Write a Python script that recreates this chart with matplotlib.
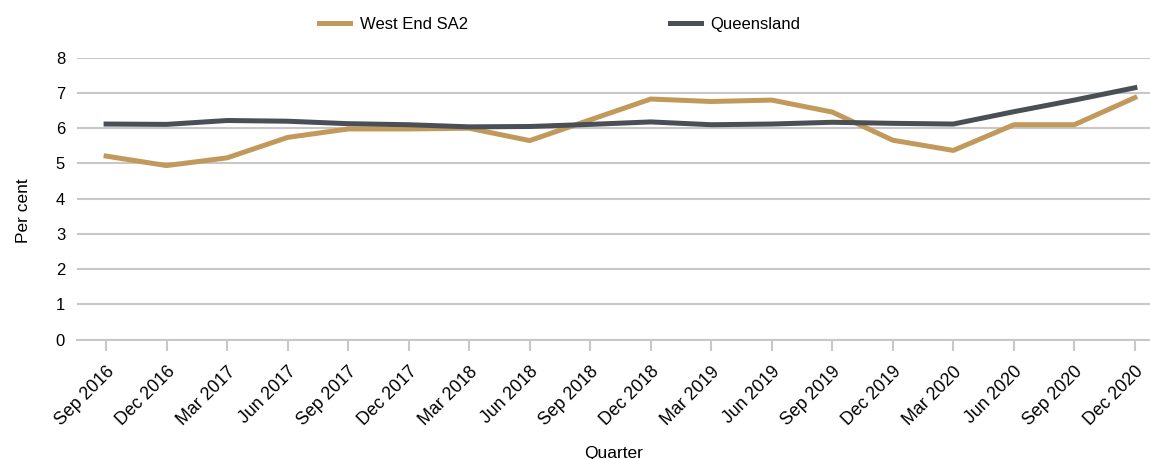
import matplotlib.pyplot as plt

plt.rcParams['font.family'] = ['Liberation Sans', 'DejaVu Sans']

quarters = ['Sep 2016', 'Dec 2016', 'Mar 2017', 'Jun 2017', 'Sep 2017', 'Dec 2017',
            'Mar 2018', 'Jun 2018', 'Sep 2018', 'Dec 2018', 'Mar 2019', 'Jun 2019',
            'Sep 2019', 'Dec 2019', 'Mar 2020', 'Jun 2020', 'Sep 2020', 'Dec 2020']
west_end = [5.21, 4.94, 5.16, 5.74, 5.98, 5.98, 6.0, 5.65, 6.24, 6.83, 6.76, 6.80,
            6.46, 5.66, 5.37, 6.10, 6.10, 6.87]
queensland = [6.12, 6.11, 6.22, 6.20, 6.13, 6.10, 6.04, 6.05, 6.11, 6.18, 6.10, 6.12,
              6.17, 6.14, 6.12, 6.47, 6.80, 7.15]

fig = plt.figure(figsize=(11.5, 4.59), dpi=100)
ax = fig.add_axes([0.067, 0.2603, 0.933, 0.6137])

x = range(len(quarters))
ax.plot(x, west_end, color='#C19A5B', lw=3.6, label='West End SA2')
ax.plot(x, queensland, color='#4A4F55', lw=3.6, label='Queensland')

ax.set_ylim(0, 8)
ax.set_yticks(range(0, 9))
ax.set_xlim(-0.48, 17.25)
ax.set_xticks(list(x))
ax.set_xticklabels(quarters, rotation=45, ha='right', rotation_mode='anchor')
ax.grid(axis='y', color='#C8C8C8', lw=1.5)
ax.set_axisbelow(True)
for s in ['top', 'right', 'left']:
    ax.spines[s].set_visible(False)
ax.spines['bottom'].set_color('#C8C8C8')
ax.spines['bottom'].set_linewidth(1.5)
ax.tick_params(axis='x', color='#C8C8C8', width=1.5, length=8, labelsize=12.8, pad=9)
ax.tick_params(axis='y', length=0, labelsize=12, pad=8.6)

ax.set_xlabel('Quarter', fontsize=12.5, labelpad=12)
ax.set_ylabel('Per cent', fontsize=12.5)
ax.yaxis.set_label_coords(-0.043, 0.457)

fig.legend(loc='center', bbox_to_anchor=(0.487, 0.946), ncol=2, frameon=False,
           fontsize=12, handlelength=1.86, handletextpad=0.58, columnspacing=12.1)

fig.savefig('out.png', dpi=100)
